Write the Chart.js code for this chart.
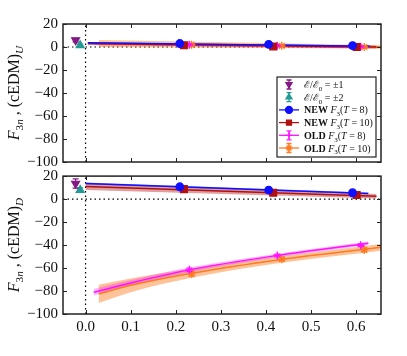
<!DOCTYPE html>
<html lang="en">
<head>
<meta charset="UTF-8">
<title>F3n cEDM form factors</title>
<script src="https://cdn.jsdelivr.net/npm/chart.js"></script>
<style>
    body { margin: 0; background: #fff; }
    #wrap { position: relative; width: 407px; height: 356px; }
    .panel { position: absolute; left: 0; width: 407px; }
</style>
</head>
<body>
<div id="wrap">
    <div class="panel" style="top:0;height:170px"><canvas id="topChart"></canvas></div>
    <div class="panel" style="top:170px;height:186px"><canvas id="botChart"></canvas></div>
</div>
<script>
// ---- axes ----
const xTicks = [0.0, 0.1, 0.2, 0.3, 0.4, 0.5, 0.6];
const yTicks = [-100, -80, -60, -40, -20, 0, 20];
const xMin = -0.05, xMax = 0.655;
const yMin = -100, yMax = 20;

// ---- Q^2 of the data points ----
const qE1 = [-0.022];
const qE2 = [-0.012];
const qNew8 = [0.209, 0.406, 0.592];
const qNew10 = [0.218, 0.416, 0.601];
const qOld8 = [0.23, 0.425, 0.61];
const qOld10 = [0.235, 0.435, 0.618];

// ---- upper panel (U) ----
const uE1 = [6.0], uE1Err = [1.5];
const uE2 = [1.5], uE2Err = [1.0];
const uNew8 = [3.0, 2.3, 1.2], uNew8Err = [0.6, 0.6, 0.6];
const uNew10 = [1.5, 0.5, 0.0], uNew10Err = [0.8, 0.8, 0.8];
const uOld8 = [2.0, 1.0, 0.3], uOld8Err = [0.8, 0.8, 0.8];
const uOld10 = [2.0, 1.0, 0.0], uOld10Err = [1.0, 1.0, 1.0];

// ---- lower panel (D) ----
const dE1 = [13.5], dE1Err = [4.0];
const dE2 = [7.8], dE2Err = [2.0];
const dNew8 = [10.7, 7.8, 5.5], dNew8Err = [0.8, 0.8, 0.8];
const dNew10 = [8.7, 5.5, 3.5], dNew10Err = [1.0, 1.0, 1.0];
const dOld8 = [-61.6, -49.1, -40.2], dOld8Err = [1.5, 1.2, 1.2];
const dOld10 = [-65.0, -52.3, -44.2], dOld10Err = [2.0, 1.5, 1.5];

// ---- fit curves: q, central, low, high ----
const uFitNew8Q = [0.005, 0.63], uFitNew8 = [3.6, 0.6], uFitNew8Lo = [3.0, 0.0], uFitNew8Hi = [4.2, 1.2];
const uFitNew10Q = [0.005, 0.645], uFitNew10 = [3.0, 0.0], uFitNew10Lo = [1.8, -1.2], uFitNew10Hi = [4.2, 1.2];
const uFitOld8Q = [0.02, 0.63], uFitOld8 = [3.0, 0.0], uFitOld8Lo = [2.0, -1.0], uFitOld8Hi = [4.0, 1.0];
const uFitOld10Q = [0.03, 0.655], uFitOld10 = [3.0, 0.0], uFitOld10Lo = [0.0, -1.5], uFitOld10Hi = [6.0, 1.5];

const dFitNew8Q = [0.0, 0.627], dFitNew8 = [13.6, 4.9], dFitNew8Lo = [12.8, 4.1], dFitNew8Hi = [14.4, 5.7];
const dFitNew10Q = [0.0, 0.645], dFitNew10 = [11.0, 2.5], dFitNew10Lo = [8.0, 0.5], dFitNew10Hi = [14.0, 4.5];
const dFitOld8Q = [0.018, 0.1, 0.23, 0.425, 0.627];
const dFitOld8 = [-81.2, -73.0, -61.6, -49.1, -38.5];
const dFitOld8Lo = [-84.0, -75.5, -63.6, -50.6, -40.0];
const dFitOld8Hi = [-78.2, -70.5, -59.6, -47.6, -37.0];
const dFitOld10Q = [0.029, 0.1, 0.235, 0.435, 0.655];
const dFitOld10 = [-82.5, -75.0, -64.5, -52.5, -42.0];
const dFitOld10Lo = [-90.5, -81.0, -68.5, -55.5, -45.0];
const dFitOld10Hi = [-74.5, -69.0, -60.5, -49.5, -39.0];

// ---- colours ----
const cE1 = '#841a84';
const cE2 = '#249a96';
const cNew8 = '#1010ff';
const cNew10 = '#b21010';
const cOld8 = '#ff10ff';
const cOld10 = '#ff7a20';

const serif = "'Liberation Serif', 'DejaVu Serif', serif";

const pts = (xs, ys) => xs.map((x, i) => ({ x: x, y: ys[i] }));

function pointSet(xs, ys, errs, color, style, radius, rot) {
    return {
        data: pts(xs, ys), errorBars: errs, showLine: false,
        pointStyle: style, pointRadius: radius, pointRotation: rot || 0,
        pointBackgroundColor: color, pointBorderColor: color, pointBorderWidth: 1.3,
        borderColor: color, order: 0
    };
}
function fitLine(xs, ys, color) {
    return { data: pts(xs, ys), borderColor: color, borderWidth: 1.5, pointRadius: 0, fill: false,
             cubicInterpolationMode: 'monotone', order: 1 };
}
function band(xs, lo, hi, fillColor) {
    return [
        { data: pts(xs, hi), borderWidth: 0, borderColor: 'transparent', pointRadius: 0, fill: false,
          cubicInterpolationMode: 'monotone', order: 2 },
        { data: pts(xs, lo), borderWidth: 0, borderColor: 'transparent', pointRadius: 0, fill: '-1',
          cubicInterpolationMode: 'monotone', backgroundColor: fillColor, order: 2 }
    ];
}
function refLines() {
    const dots = { borderColor: '#000', borderWidth: 1.2, borderDash: [1.5, 3], pointRadius: 0, fill: false, order: 3 };
    return [
        Object.assign({ data: pts([xMin, xMax], [0, 0]) }, dots),
        Object.assign({ data: pts([0, 0], [yMin, yMax]) }, dots)
    ];
}

// rich text: segments with italic / bold / sub
function segFont(s, size) {
    const sz = s.sub ? size * 0.7 : size;
    return (s.i ? 'italic ' : '') + (s.b ? 'bold ' : '') + sz + 'px ' + (s.fam || serif);
}
function drawRich(ctx, segs, x, y, size, align) {
    let w = 0;
    segs.forEach(s => { ctx.font = segFont(s, size); w += ctx.measureText(s.t).width; });
    let cx = align === 'center' ? x - w / 2 : x;
    ctx.textAlign = 'left';
    ctx.textBaseline = 'alphabetic';
    segs.forEach(s => {
        ctx.font = segFont(s, size);
        ctx.fillText(s.t, cx, y + (s.sub ? size * 0.28 : 0));
        cx += ctx.measureText(s.t).width;
    });
}

// error bars, drawn under the markers
const errorBarPlugin = {
    id: 'errorBars',
    beforeDatasetDraw(chart, args) {
        const ds = chart.data.datasets[args.index];
        if (!ds.errorBars) return;
        const ys = chart.scales.y, ctx = chart.ctx;
        ctx.save();
        ctx.strokeStyle = ds.borderColor;
        ctx.lineWidth = 1.2;
        ds.data.forEach((p, i) => {
            const e = ds.errorBars[i];
            const px = chart.scales.x.getPixelForValue(p.x);
            const y1 = ys.getPixelForValue(p.y - e), y2 = ys.getPixelForValue(p.y + e);
            ctx.beginPath();
            ctx.moveTo(px, y1); ctx.lineTo(px, y2);
            ctx.moveTo(px - 3, y1); ctx.lineTo(px + 3, y1);
            ctx.moveTo(px - 3, y2); ctx.lineTo(px + 3, y2);
            ctx.stroke();
        });
        ctx.restore();
    }
};

// frame with inward ticks, like matplotlib
const framePlugin = {
    id: 'frame',
    afterDraw(chart) {
        const a = chart.chartArea, ctx = chart.ctx;
        const xs = chart.scales.x, ys = chart.scales.y;
        ctx.save();
        ctx.strokeStyle = '#222';
        ctx.lineWidth = 1;
        ctx.beginPath();
        xTicks.forEach(v => {
            const px = Math.round(xs.getPixelForValue(v)) + 0.5;
            ctx.moveTo(px, a.bottom); ctx.lineTo(px, a.bottom - 4);
            ctx.moveTo(px, a.top); ctx.lineTo(px, a.top + 4);
        });
        yTicks.forEach(v => {
            const py = Math.round(ys.getPixelForValue(v)) + 0.5;
            ctx.moveTo(a.left, py); ctx.lineTo(a.left + 4, py);
            ctx.moveTo(a.right, py); ctx.lineTo(a.right - 4, py);
        });
        ctx.stroke();
        ctx.lineWidth = 1.5;
        ctx.strokeRect(a.left, a.top, a.right - a.left, a.bottom - a.top);
        ctx.restore();
    }
};

// axis titles
const titlePlugin = {
    id: 'titles',
    afterDraw(chart, args, opts) {
        const a = chart.chartArea, ctx = chart.ctx;
        ctx.save();
        ctx.fillStyle = '#111';
        ctx.translate(19, (a.top + a.bottom) / 2);
        ctx.rotate(-Math.PI / 2);
        drawRich(ctx, [{ t: 'F', i: 1 }, { t: '3', sub: 1 }, { t: 'n', i: 1, sub: 1 }, { t: ' , (cEDM)' }, { t: opts.sub, i: 1, sub: 1 }], 0, 0, 16, 'center');
        ctx.restore();
        if (opts.xTitle) {
            ctx.save();
            ctx.fillStyle = '#111';
            drawRich(ctx, [{ t: 'Q', i: 1 }, { t: '² [GeV²]' }], (a.left + a.right) / 2, 351, 15, 'center');
            ctx.restore();
        }
    }
};

// legend inside the upper panel
const scriptE = { t: 'ℰ', fam: "'DejaVu Serif', serif" };
const legendItems = [
    { color: cE1, style: 'triangle', rot: 180, line: false, err: true,
      text: [scriptE, { t: '/' }, scriptE, { t: '0', sub: 1 }, { t: ' = ±1' }] },
    { color: cE2, style: 'triangle', rot: 0, line: false, err: true,
      text: [scriptE, { t: '/' }, scriptE, { t: '0', sub: 1 }, { t: ' = ±2' }] },
    { color: cNew8, style: 'circle', line: true,
      text: [{ t: 'NEW ', b: 1 }, { t: 'F', i: 1 }, { t: '3', sub: 1 }, { t: '(' }, { t: 'T', i: 1 }, { t: ' = 8)' }] },
    { color: cNew10, style: 'rect', line: true,
      text: [{ t: 'NEW ', b: 1 }, { t: 'F', i: 1 }, { t: '3', sub: 1 }, { t: '(' }, { t: 'T', i: 1 }, { t: ' = 10)' }] },
    { color: cOld8, style: 'cross', line: true, err: true,
      text: [{ t: 'OLD ', b: 1 }, { t: 'F', i: 1 }, { t: '3', sub: 1 }, { t: '(' }, { t: 'T', i: 1 }, { t: ' = 8)' }] },
    { color: cOld10, style: 'star', line: true, err: true,
      text: [{ t: 'OLD ', b: 1 }, { t: 'F', i: 1 }, { t: '3', sub: 1 }, { t: '(' }, { t: 'T', i: 1 }, { t: ' = 10)' }] }
];
const legendPlugin = {
    id: 'boxLegend',
    afterDraw(chart) {
        const ctx = chart.ctx;
        const bx = 277, by = 77, bw = 99, bh = 80;
        ctx.save();
        ctx.fillStyle = '#fff';
        ctx.fillRect(bx, by, bw, bh);
        ctx.strokeStyle = '#222';
        ctx.lineWidth = 1.2;
        ctx.strokeRect(bx, by, bw, bh);
        legendItems.forEach((it, k) => {
            const y = by + 7.5 + k * 12.7;
            const mx = bx + 12;
            ctx.strokeStyle = it.color;
            ctx.fillStyle = it.color;
            ctx.lineWidth = 1.3;
            if (it.line) {
                ctx.beginPath(); ctx.moveTo(bx + 2, y); ctx.lineTo(bx + 22, y); ctx.stroke();
            }
            if (it.err) {
                ctx.beginPath();
                ctx.moveTo(mx, y - 4.5); ctx.lineTo(mx, y + 4.5);
                ctx.moveTo(mx - 2.5, y - 4.5); ctx.lineTo(mx + 2.5, y - 4.5);
                ctx.moveTo(mx - 2.5, y + 4.5); ctx.lineTo(mx + 2.5, y + 4.5);
                ctx.stroke();
            }
            if (Chart.helpers && Chart.helpers.drawPoint) {
                Chart.helpers.drawPoint(ctx, { pointStyle: it.style, rotation: it.rot || 0, radius: 3.5, borderWidth: 1.2 }, mx, y);
            }
            ctx.fillStyle = '#111';
            drawRich(ctx, it.text, bx + 27, y + 3.5, 10, 'left');
        });
        ctx.restore();
    }
};

function makeChart(id, datasets, xShown, padding, sub) {
    return new Chart(document.getElementById(id), {
        type: 'line',
        data: { datasets: datasets },
        plugins: [errorBarPlugin, framePlugin, titlePlugin].concat(xShown ? [] : [legendPlugin]),
        options: {
            responsive: true, maintainAspectRatio: false, animation: false,
            layout: { padding: padding },
            plugins: {
                legend: { display: false }, tooltip: { enabled: false },
                titles: { sub: sub, xTitle: xShown }
            },
            scales: {
                x: {
                    type: 'linear', min: xMin, max: xMax, display: xShown,
                    afterBuildTicks: s => { s.ticks = xTicks.map(v => ({ value: v })); },
                    afterFit: s => { if (xShown) { s.height = 42; s.paddingLeft = 0; s.paddingRight = 0; } },
                    grid: { display: false, drawTicks: false },
                    border: { display: false },
                    ticks: {
                        padding: 6, color: '#111', maxRotation: 0, autoSkip: false, autoSkipPadding: 0,
                        font: { family: serif, size: 15, lineHeight: 1 },
                        callback: v => v.toFixed(1)
                    }
                },
                y: {
                    type: 'linear', min: yMin, max: yMax,
                    afterBuildTicks: s => { s.ticks = yTicks.map(v => ({ value: v })); },
                    afterFit: s => { s.width = 63; s.paddingTop = 0; s.paddingBottom = 0; },
                    grid: { display: false, drawTicks: false },
                    border: { display: false },
                    ticks: {
                        padding: 5, color: '#111', autoSkip: false, autoSkipPadding: 0,
                        font: { family: serif, size: 15, lineHeight: 1 },
                        callback: v => String(v).replace('-', '\u2212')
                    }
                }
            }
        }
    });
}

const topSets = [
    pointSet(qE1, uE1, uE1Err, cE1, 'triangle', 4.5, 180),
    pointSet(qE2, uE2, uE2Err, cE2, 'triangle', 4.5, 0),
    pointSet(qNew8, uNew8, uNew8Err, cNew8, 'circle', 3.8),
    pointSet(qNew10, uNew10, uNew10Err, cNew10, 'rect', 4.8),
    pointSet(qOld8, uOld8, uOld8Err, cOld8, 'cross', 4),
    pointSet(qOld10, uOld10, uOld10Err, cOld10, 'star', 4),
    fitLine(uFitNew8Q, uFitNew8, cNew8),
    fitLine(uFitNew10Q, uFitNew10, cNew10),
    fitLine(uFitOld8Q, uFitOld8, cOld8),
    fitLine(uFitOld10Q, uFitOld10, cOld10),
    ...band(uFitNew8Q, uFitNew8Lo, uFitNew8Hi, 'rgba(16,16,255,0.35)'),
    ...band(uFitNew10Q, uFitNew10Lo, uFitNew10Hi, 'rgba(178,16,16,0.4)'),
    ...band(uFitOld8Q, uFitOld8Lo, uFitOld8Hi, 'rgba(255,16,255,0.3)'),
    ...band(uFitOld10Q, uFitOld10Lo, uFitOld10Hi, 'rgba(255,122,32,0.45)'),
    ...refLines()
];

const botSets = [
    pointSet(qE1, dE1, dE1Err, cE1, 'triangle', 4.5, 180),
    pointSet(qE2, dE2, dE2Err, cE2, 'triangle', 4.5, 0),
    pointSet(qNew8, dNew8, dNew8Err, cNew8, 'circle', 3.8),
    pointSet(qNew10, dNew10, dNew10Err, cNew10, 'rect', 4.8),
    pointSet(qOld8, dOld8, dOld8Err, cOld8, 'cross', 4),
    pointSet(qOld10, dOld10, dOld10Err, cOld10, 'star', 4),
    fitLine(dFitNew8Q, dFitNew8, cNew8),
    fitLine(dFitNew10Q, dFitNew10, cNew10),
    fitLine(dFitOld8Q, dFitOld8, cOld8),
    fitLine(dFitOld10Q, dFitOld10, cOld10),
    ...band(dFitNew8Q, dFitNew8Lo, dFitNew8Hi, 'rgba(16,16,255,0.35)'),
    ...band(dFitNew10Q, dFitNew10Lo, dFitNew10Hi, 'rgba(178,16,16,0.4)'),
    ...band(dFitOld8Q, dFitOld8Lo, dFitOld8Hi, 'rgba(255,16,255,0.3)'),
    ...band(dFitOld10Q, dFitOld10Lo, dFitOld10Hi, 'rgba(255,122,32,0.45)'),
    ...refLines()
];

makeChart('topChart', topSets, false, { left: 0, right: 26, top: 24, bottom: 8 }, 'U');
makeChart('botChart', botSets, true, { left: 0, right: 26, top: 6, bottom: 0 }, 'D');
</script>
</body>
</html>
